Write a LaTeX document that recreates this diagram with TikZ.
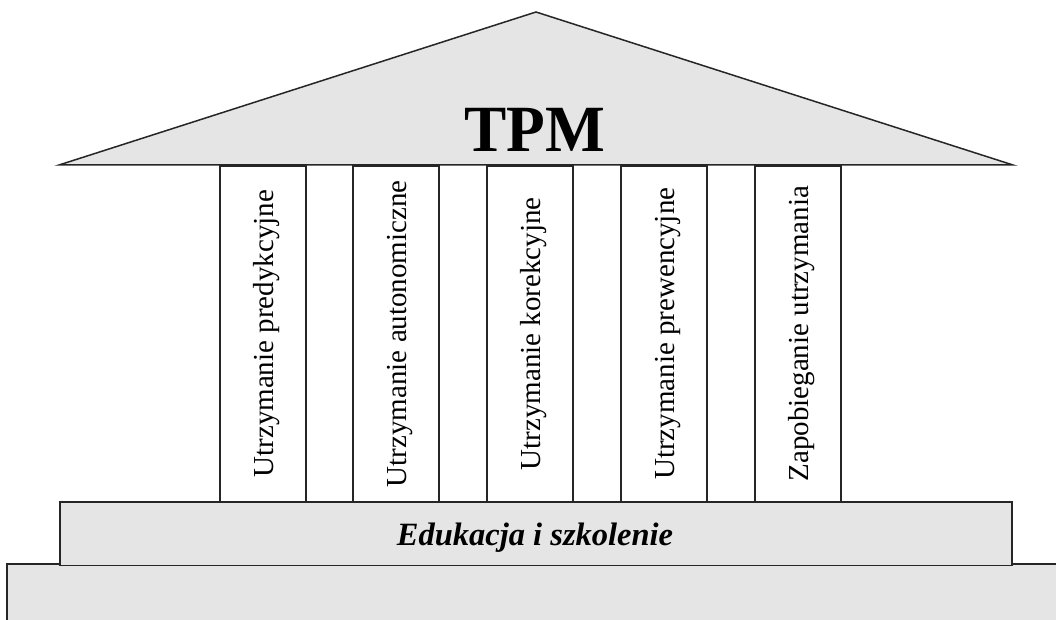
\documentclass[tikz,border=0pt]{standalone}
\usepackage{fontspec}
\setmainfont{Liberation Serif}
\begin{document}
\begin{tikzpicture}[x=1pt,y=-1pt,
  part/.style={draw=black!85,line width=1.5pt,fill=black!10},
  pillar/.style={draw=black!85,line width=1.5pt,fill=white},
  ptext/.style={rotate=90,font=\fontsize{29}{29}\selectfont,inner sep=0pt}]
\useasboundingbox (0,0) rectangle (1056,620);
% base steps
\path[part] (7,564) rectangle (1070,640);
\node[part,minimum width=952pt,minimum height=63.5pt,anchor=north west,inner sep=0pt] (edu) at (59,501) {};
\node[anchor=base,inner sep=0pt,font=\fontsize{32.5}{32.5}\bfseries\itshape\selectfont] (edut) at (535,545) {Edukacja i szkolenie};
% pillars
\foreach \x/\t [count=\i] in {219/Utrzymanie predykcyjne,352/Utrzymanie autonomiczne,486/Utrzymanie korekcyjne,620/Utrzymanie prewencyjne,754/Zapobieganie utrzymania}{
  \node[pillar,minimum width=86pt,minimum height=335pt,anchor=north west,inner sep=0pt] (p\i) at (\x,165.5) {};
  \node[ptext] (t\i) at ([xshift=4pt]p\i.center) {\t};
}
% roof
\path[part,line join=miter] (536,12) coordinate (apex) -- (1013,165) coordinate (rr) -- (59,165) coordinate (rl) -- cycle;
\node[anchor=base,inner sep=0pt,font=\fontsize{66}{66}\bfseries\selectfont,xscale=0.96] (tpm) at (535,152) {TPM};
\end{tikzpicture}
\end{document}
